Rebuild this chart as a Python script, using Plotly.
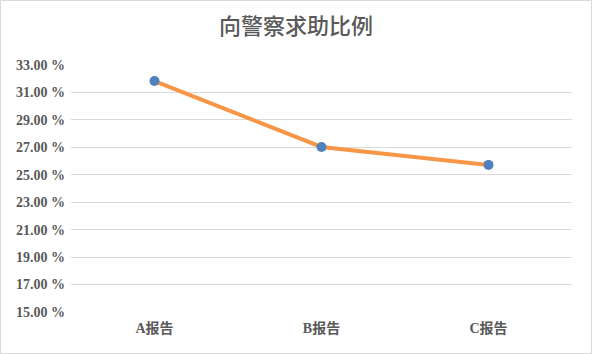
import plotly.graph_objects as go

categories = ["A报告", "B报告", "C报告"]
values = [31.83, 27.03, 25.72]
tick_vals = [15, 17, 19, 21, 23, 25, 27, 29, 31, 33]
tick_text = ["%.2f %%" % v for v in tick_vals]

fig = go.Figure()
fig.add_trace(go.Scatter(
    x=categories, y=values, mode="lines+markers",
    line=dict(color="#F79646", width=4),
    marker=dict(color="#4F81BD", size=10),
    hoverinfo="skip",
))

fig.update_layout(
    width=592, height=354,
    margin=dict(l=71, r=20, t=65, b=42),
    paper_bgcolor="white", plot_bgcolor="white",
    showlegend=False,
    title=dict(text="向警察求助比例", x=0.5, xanchor="center", y=0.925, yanchor="middle",
               font=dict(family="Noto Sans CJK SC", size=22, color="#595959", weight=500)),
    font=dict(family="Liberation Serif", color="#595959"),
)
fig.update_xaxes(range=[-0.5, 2.5], showgrid=False, showline=False, zeroline=False, ticks="",
                 tickfont=dict(family="Liberation Serif, Noto Sans CJK SC", size=14, color="#595959", weight="bold"),
                 ticklabelstandoff=6)
fig.update_yaxes(range=[15, 33], tickvals=tick_vals, ticktext=tick_text,
                 showgrid=True, gridcolor="#D9D9D9", gridwidth=1, zeroline=False, showline=False,
                 ticks="", tickfont=dict(family="Liberation Serif", size=14, color="#595959", weight="bold"),
                 ticklabelstandoff=5)
fig.add_shape(type="rect", xref="paper", yref="paper",
              x0=-70.5/501, x1=(501+19.5)/501, y0=-41.5/247, y1=(247+64.5)/247,
              line=dict(color="#D9D9D9", width=1))

fig.write_html("out.html")
